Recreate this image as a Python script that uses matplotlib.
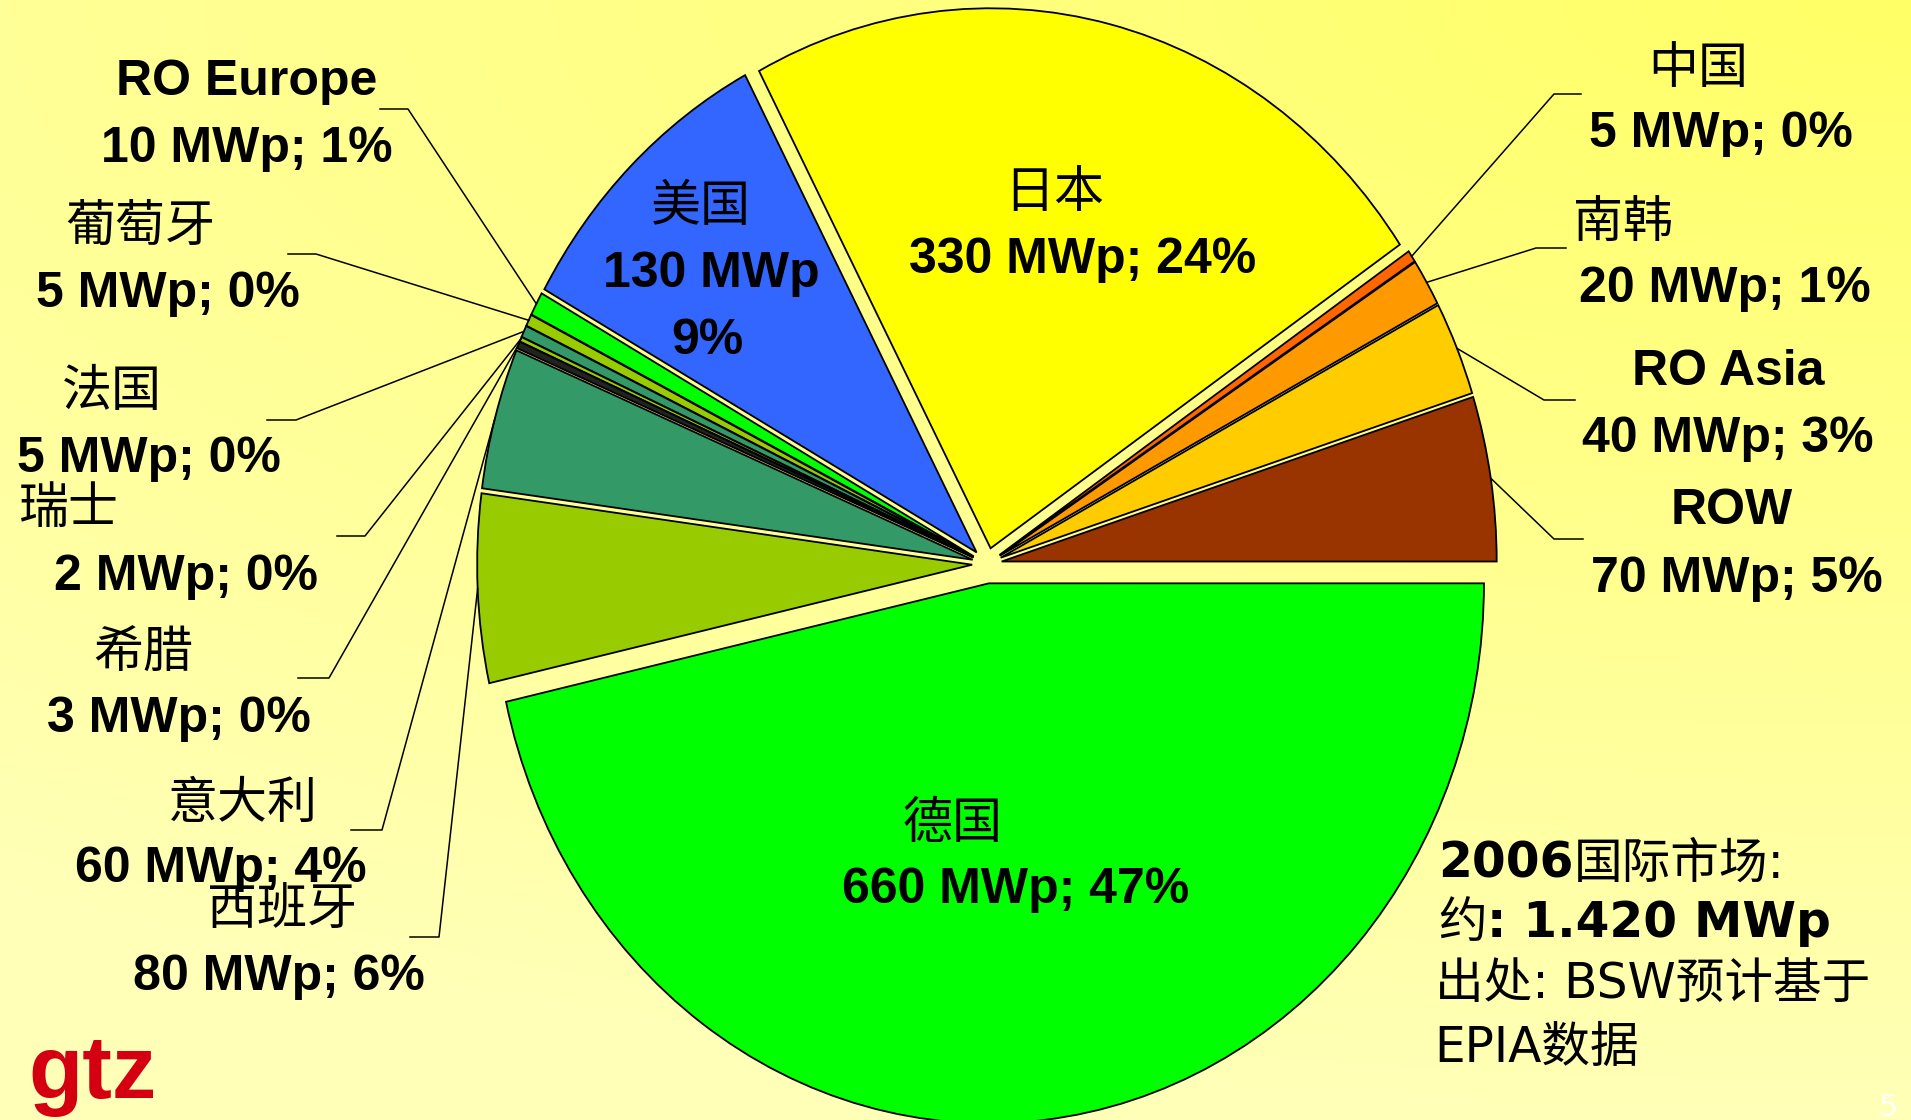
import numpy as np
import matplotlib
matplotlib.use('Agg')
import matplotlib.pyplot as plt

# slices, counter-clockwise from 3 o'clock
names = ['ROW', 'RO Asia', '南韩', '中国', '日本', '美国', 'RO Europe',
         '葡萄牙', '法国', '瑞士', '希腊', '意大利', '西班牙', '德国']
mwp = [70, 40, 20, 5, 330, 130, 10, 5, 5, 2, 3, 60, 80, 660]
pct = [5, 3, 1, 0, 24, 9, 1, 0, 0, 0, 0, 4, 6, 47]
colors = ['#993300', '#FFCC00', '#FF9900', '#FF6600', '#FFFF00', '#3366FF', '#00FF00',
          '#99CC00', '#339966', '#99CC00', '#222222', '#339966', '#99CC00', '#00FF00']
explode = [0.03] * 13 + [0.036]

W, H = 1911, 1120
CX, CY, RX, RY = 987, 564, 495, 540   # pie centre and radii in pixels


def px(x, y):
    return (x - CX) / RX, (CY - y) / RY


fig = plt.figure(figsize=(W / 100, H / 100), dpi=100)

# background gradient, yellow at top right -> cream
bg = fig.add_axes([0, 0, 1, 1])
bg.axis('off')
yy, xx = np.mgrid[0:H:4, 0:W:4]
s = np.sqrt(((W - xx) / W * 0.6) ** 2 + (yy / H) ** 2)
s = np.clip(s, 0, 1)
img = np.ones(s.shape + (3,))
img[..., 2] = (0x66 + (0xB8 - 0x66) * s) / 255
bg.imshow(img, extent=[0, 1, 0, 1], aspect='auto', origin='upper')

ax = fig.add_axes([0, 0, 1, 1])
ax.patch.set_visible(False)
wedges, _ = ax.pie(mwp, colors=colors, explode=explode, startangle=0, counterclock=True,
                   wedgeprops=dict(edgecolor='black', linewidth=1.3))
ax.set_aspect('auto')
ax.set_xlim(px(0, 0)[0], px(W, 0)[0])
ax.set_ylim(px(0, H)[1], px(0, 0)[1])
ax.axis('off')

cjk = 'Noto Sans CJK SC'
valfont = ['Liberation Sans', cjk]


def name_txt(x, y, s):
    ax.text(*px(x, y), s, ha='center', va='center', fontsize=36, family=cjk)


def val_txt(x, y, s):
    ax.text(*px(x, y), s, ha='center', va='center', fontsize=36,
            family=valfont, weight='bold')


# labels: name pos, value pos, leader elbow, leader end (pixels)
outside = {
    '中国': ((1698, 69), (1721, 134), (1554, 94), (1581, 94)),
    '南韩': ((1623, 223), (1725, 289), (1536, 248), (1566, 248)),
    'RO Asia': ((1728, 372), (1728, 439), (1544, 400), (1575, 400)),
    'ROW': ((1732, 511), (1737, 579), (1554, 539), (1583, 539)),
    'RO Europe': ((247, 82), (247, 149), (408, 109), (380, 109)),
    '葡萄牙': ((140, 227), (168, 294), (316, 254), (288, 254)),
    '法国': ((112, 392), (149, 459), (296, 420), (267, 420)),
    '瑞士': ((69, 509), (186, 577), (365, 536), (337, 536)),
    '希腊': ((143, 653), (179, 719), (329, 678), (298, 678)),
    '意大利': ((243, 804), (221, 869), (382, 830), (351, 830)),
    '西班牙': ((282, 910), (279, 977), (439, 937), (410, 937)),
}

for i, n in enumerate(names):
    if n not in outside:
        continue
    npos, vpos, elbow, end = outside[n]
    w = wedges[i]
    mid = np.deg2rad((w.theta1 + w.theta2) / 2)
    rim = (w.center[0] + w.r * np.cos(mid), w.center[1] + w.r * np.sin(mid))
    e1, e2 = px(*elbow), px(*end)
    ax.plot([rim[0], e1[0], e2[0]], [rim[1], e1[1], e2[1]], color='black', lw=1.1)
    if n.isascii():
        val_txt(*npos, n)
    else:
        name_txt(*npos, n)
    val_txt(*vpos, f'{mwp[i]} MWp; {pct[i]}%')

# labels inside the big slices
name_txt(701, 207, '美国')
val_txt(711, 274, f'{mwp[5]} MWp')
val_txt(707, 341, f'{pct[5]}%')
name_txt(1054, 193, '日本')
val_txt(1083, 260, f'{mwp[4]} MWp; {pct[4]}%')
name_txt(953, 824, '德国')
val_txt(1016, 890, f'{mwp[13]} MWp; {pct[13]}%')

# note at bottom right
nfont = ['DejaVu Sans', cjk]
fs = 35
t1 = ax.text(*px(1438, 878), '2006', fontsize=fs, family=nfont, weight='bold', va='baseline')
ax.annotate('国际市场:', xy=(1, px(0, 878)[1]), xycoords=(t1, 'data'), fontsize=fs,
            family=nfont, va='baseline')
t2 = ax.text(*px(1438, 937), '约', fontsize=fs, family=nfont, va='baseline')
ax.annotate(': 1.420 MWp', xy=(1, px(0, 937)[1]), xycoords=(t2, 'data'), fontsize=fs,
            family=nfont, weight='bold', va='baseline')
ax.text(*px(1435, 998), '出处: BSW预计基于', fontsize=fs, family=nfont, va='baseline')
ax.text(*px(1434, 1062), 'EPIA数据', fontsize=fs, family=nfont, va='baseline')

# logo and page number
ax.text(*px(28, 1098), 'gtz', fontsize=64, family='Liberation Sans', weight='bold',
        color='#D40012', va='baseline')
ax.text(*px(1888, 1107), '5', fontsize=22, color='white', ha='center', va='center')

fig.savefig('out.png', dpi=100)
